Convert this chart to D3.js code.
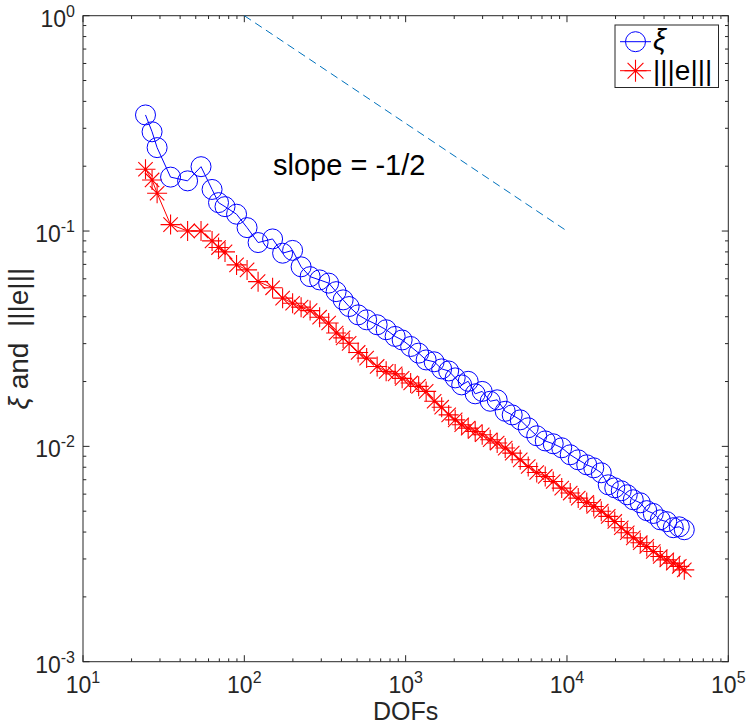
<!DOCTYPE html>
<html><head><meta charset="utf-8">
<script src="https://cdn.jsdelivr.net/npm/d3@7"></script>
<style>body{margin:0;background:#fff}svg{display:block}text{font-family:"Liberation Sans",Arial,Helvetica,sans-serif;fill:#262626}</style>
</head><body>
<svg id="c" width="747" height="725"></svg>
<script>
// DOFs (shared by both series)
const dofs = [24.4,26.8,28.8,34.9,44.5,53.9,63.1,69.2,75.9,89.5,104,121.7,149.7,
 172.7,199.2,224.9,255.7,292.9,333.2,370.7,409.7,446.3,507.6,573.1,665.8,757.1,860.8,951.2,1074,1204,1340,1502,1672,
 1848,2028,2225,2441,2698,2982,3342,3693,4141,4576,5131,5752,6494,7333,8219,9277,10475,11742,13259,14655,
 16311,18022,19778,21703,23642,25763,28468,31238,34270,37867,41556,45604,49683,53358];
// estimator xi
const xi = [0.346,0.289,0.244,0.178,0.171,0.199,0.156,0.1355,0.1298,0.1197,0.1037,0.0884,0.0919,
 0.0789,0.0813,0.0682,0.0614,0.0593,0.0573,0.0523,0.0479,0.0446,0.0408,0.0387,0.0367,0.0348,0.0324,0.0312,0.0291,0.0271,0.0252,0.0247,0.0229,
 0.0224,0.0208,0.0193,0.02005,0.01754,0.018,0.0162,0.01645,0.01455,0.014,0.01328,0.0122,0.0112,0.0106,0.01028,0.00985,0.00914,0.00866,0.00821,0.00795,
 0.00754,0.00663,0.00642,0.00622,0.00596,0.00565,0.00547,0.00503,0.00488,0.00456,0.00447,0.00419,0.00423,0.0041];
// energy error |||e|||
const err = [0.1936,0.1727,0.1498,0.1071,0.1001,0.1001,0.09,0.0838,0.08,0.0696,0.066,0.0582,0.0545,
 0.0488,0.0462,0.0443,0.0427,0.0398,0.0374,0.0336,0.0319,0.0301,0.0273,0.0257,0.0235,0.0223,0.0217,0.0207,0.0197,0.019,0.018,0.0162,0.0152,
 0.014,0.01328,0.0126,0.01215,0.01172,0.01132,0.01073,0.01036,0.00982,0.0093,0.00866,0.00806,0.00756,0.00725,0.00687,0.0064,0.00607,0.00575,0.00549,0.00526,
 0.005,0.00473,0.00448,0.00419,0.00397,0.00376,0.00357,0.00343,0.00325,0.00308,0.00297,0.00287,0.00277,0.00267];
// reference slope line
const refX = [100, 10000];
const refY = [1, 0.1];
const xTickExp = [1,2,3,4,5];
const yTickExp = [0,-1,-2,-3];
const xLabel = "DOFs";
const slopeText = "slope = -1/2";

const svg = d3.select("#c");
const L=83, T=15.7, R=728.3, B=661.7;
const x = d3.scaleLog().domain([1e1,1e5]).range([L,R]);
const y = d3.scaleLog().domain([1e-3,1e0]).range([B,T]);
const axCol = "#262626";

// minor/major ticks
const g = svg.append("g");
function minors(lo,hi){const a=[];for(let e=lo;e<hi;e++)for(let m=1;m<10;m++)a.push({v:m*Math.pow(10,e),major:m===1});a.push({v:Math.pow(10,hi),major:true});return a;}
minors(1,5).forEach(t=>{
  const px=x(t.v), len=t.major?6.5:3.3;
  g.append("line").attr("x1",px).attr("x2",px).attr("y1",B).attr("y2",B-len).attr("stroke",axCol);
  g.append("line").attr("x1",px).attr("x2",px).attr("y1",T).attr("y2",T+len).attr("stroke",axCol);
});
minors(-3,0).forEach(t=>{
  const py=y(t.v), len=t.major?6.5:3.3;
  g.append("line").attr("x1",L).attr("x2",L+len).attr("y1",py).attr("y2",py).attr("stroke",axCol);
  g.append("line").attr("x1",R).attr("x2",R-len).attr("y1",py).attr("y2",py).attr("stroke",axCol);
});
svg.append("rect").attr("x",L).attr("y",T).attr("width",R-L).attr("height",B-T).attr("fill","none").attr("stroke",axCol).attr("stroke-width",1);

// tick labels
xTickExp.forEach(e=>{
  const t=svg.append("text").attr("x",x(Math.pow(10,e))).attr("y",B+31).attr("text-anchor","middle").attr("font-size",23);
  t.append("tspan").text("10");
  t.append("tspan").attr("dy",-10).attr("font-size",16).text(e);
});
yTickExp.forEach(e=>{
  const t=svg.append("text").attr("x",75).attr("y",y(Math.pow(10,e))+11).attr("text-anchor","end").attr("font-size",23);
  t.append("tspan").text("10");
  t.append("tspan").attr("dy",-10).attr("font-size",16).text(e);
});

// axis labels
svg.append("text").attr("x",(L+R)/2).attr("y",719.5).attr("text-anchor","middle").attr("font-size",25).text(xLabel);
const yl=svg.append("text").attr("transform",`translate(28,${(T+B)/2}) rotate(-90)`).attr("text-anchor","middle").attr("font-size",28).attr("xml:space","preserve");
yl.append("tspan").attr("font-style","italic").text("ξ");
yl.append("tspan").text(" and  |||e|||");

// reference dashed line
svg.append("path").attr("d",d3.line().x(d=>x(d[0])).y(d=>y(d[1]))(d3.zip(refX,refY)))
  .attr("fill","none").attr("stroke","#0072BD").attr("stroke-width",1).attr("stroke-dasharray","8,5");
svg.append("text").attr("x",273).attr("y",175).attr("font-size",29).style("fill","#000").text(slopeText);

const line=d3.line().x(d=>x(d[0])).y(d=>y(d[1]));
const blueD=d3.zip(dofs,xi), redD=d3.zip(dofs,err);
function star(sel,cx,cy,r,col){
  const d=r*0.72;
  const p=`M${cx-r},${cy}L${cx+r},${cy}M${cx},${cy-r}L${cx},${cy+r}M${cx-d},${cy-d}L${cx+d},${cy+d}M${cx-d},${cy+d}L${cx+d},${cy-d}`;
  sel.append("path").attr("d",p).attr("stroke",col).attr("stroke-width",1.1).attr("fill","none");
}
// red series
svg.append("path").attr("d",line(redD)).attr("fill","none").attr("stroke","#ff0000").attr("stroke-width",1);
const rg=svg.append("g");
redD.forEach(d=>star(rg,x(d[0]),y(d[1]),10,"#ff0000"));
// blue series
svg.append("path").attr("d",line(blueD)).attr("fill","none").attr("stroke","#0000ff").attr("stroke-width",1);
svg.append("g").selectAll("circle").data(blueD).join("circle")
  .attr("cx",d=>x(d[0])).attr("cy",d=>y(d[1])).attr("r",10).attr("fill","none").attr("stroke","#0000ff").attr("stroke-width",1);

// legend
const lg=svg.append("g");
lg.append("rect").attr("x",615).attr("y",25).attr("width",103.5).attr("height",62.5).attr("fill","#fff").attr("stroke",axCol);
lg.append("line").attr("x1",620).attr("x2",651).attr("y1",41.7).attr("y2",41.7).attr("stroke","#0000ff");
lg.append("circle").attr("cx",635.5).attr("cy",41.7).attr("r",10).attr("fill","none").attr("stroke","#0000ff");
lg.append("text").attr("x",653).attr("y",50).attr("font-size",29).attr("font-style","italic").style("fill","#000").text("ξ");
lg.append("line").attr("x1",620).attr("x2",651).attr("y1",70.7).attr("y2",70.7).attr("stroke","#ff0000");
star(lg,635.5,70.7,11,"#ff0000");
lg.append("text").attr("x",653).attr("y",80).attr("font-size",28).style("fill","#000").text("|||e|||");
</script>
</body></html>
